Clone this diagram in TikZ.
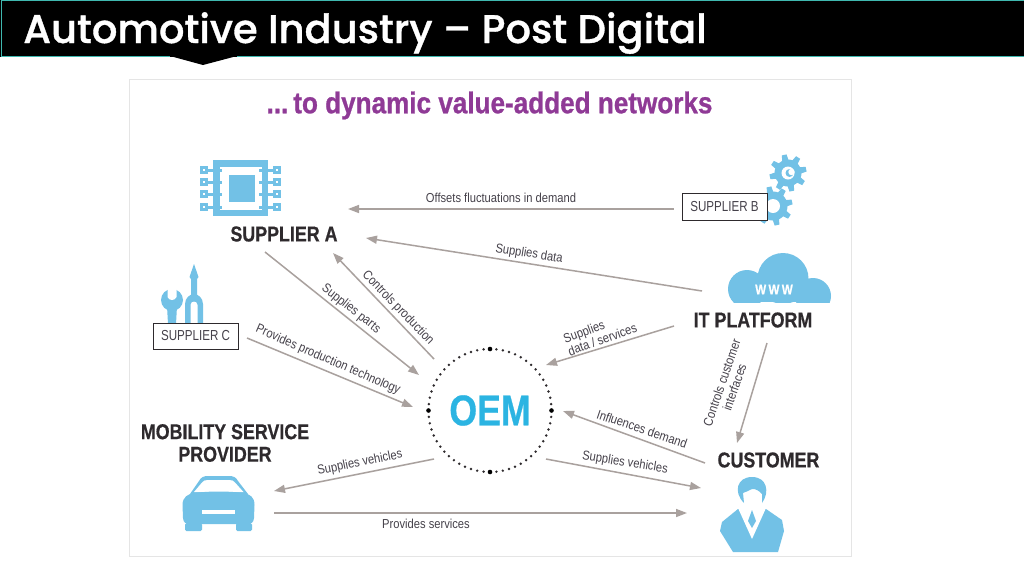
\documentclass[tikz,border=0pt]{standalone}
\usepackage{fontspec}
\usetikzlibrary{arrows.meta,calc}
\setmainfont{Liberation Sans}
\newfontfamily\titlefont[FakeBold=0.9]{Poppins Medium}
\newfontfamily\condfont[FakeStretch=0.86]{Liberation Sans}
\newfontfamily\boxfont[FakeStretch=0.8]{Liberation Sans}
\newfontfamily\actorfont[FakeStretch=0.83,FakeBold=0.6]{Liberation Sans Bold}
\newfontfamily\headfont[FakeStretch=0.87,FakeBold=0.8]{Liberation Sans Bold}
\definecolor{teal1}{HTML}{3FB8AF}
\definecolor{icon}{HTML}{72C1E6}
\definecolor{arrowgray}{HTML}{A9A19E}
\definecolor{inkdark}{HTML}{2E2A2D}
\definecolor{labelink}{HTML}{45414A}
\definecolor{purple1}{HTML}{8F3A96}
\definecolor{oemblue}{HTML}{2BB4E2}
\tikzset{
  arr/.style={draw=arrowgray,line width=1.5pt,-{Triangle[length=11pt,width=8pt]}},
  lab/.style={text=labelink,inner sep=0pt,font=\condfont\fontsize{13}{13.5}\selectfont},
  actor/.style={text=inkdark,inner sep=0pt,font=\actorfont\fontsize{21.5}{22.5}\selectfont,align=center},
  subbox/.style={draw=inkdark,line width=0.9pt,fill=white,inner sep=0pt,text=labelink,
     minimum width=85pt,minimum height=27pt,font=\boxfont\fontsize{14.5}{15}\selectfont},
  iconfill/.style={fill=icon,draw=none},
  blank/.style={fill=white,draw=none},
}
\newcommand{\mygear}[4]{% x y outer inner
  \fill[iconfill] (#1,#2) circle[radius=#4];
  \foreach \a in {0,45,...,315}{
    \fill[iconfill,shift={(#1,#2)},rotate=\a+12] (-3.2,#4-1) -- (3.2,#4-1) -- (2.4,#3) -- (-2.4,#3) -- cycle;
  }
}
\begin{document}
\begin{tikzpicture}[x=1pt,y=-1pt]
\useasboundingbox (0,0) rectangle (1024,576);
\fill[white] (0,0) rectangle (1024,576);
% title bar
\fill[black] (170,56) -- (203,65) -- (237,56) -- cycle;
\fill[black] (0,0) rectangle (1024,56.5);
\draw[teal1,line width=1pt] (1,56.5) -- (1,0.5) -- (1024,0.5);
\draw[teal1,line width=1pt] (1,56.5) -- (170,56.5);
\draw[teal1,line width=1pt] (237,56.5) -- (1024,56.5);
\node[inner sep=0pt,anchor=base west,text=white] (title) at (23,43)
  {\titlefont\fontsize{40}{42}\selectfont Automotive Industry – Post Digital};
% panel
\node[draw=black!10,line width=1pt,fill=white,minimum width=722pt,minimum height=477pt,inner sep=0pt] (panel) at (490,317.5) {};
\node[inner sep=0pt,text=purple1] (head) at (489.5,105.5)
  {\headfont\fontsize{30}{32}\selectfont ...\,to dynamic value-added networks};

% chip icon
\fill[iconfill] (213,160) rectangle (268,216);
\fill[blank] (219.5,167) rectangle (261.5,210);
\fill[iconfill] (229,175) rectangle (255,202);
\foreach \yy in {170,182,194,207}{
  \fill[iconfill] (207,\yy-1.5) rectangle (222,\yy+1.5);
  \fill[iconfill] (259,\yy-1.5) rectangle (274,\yy+1.5);
  \draw[icon,line width=2.6pt] (201.5,\yy-2.5) rectangle (206.5,\yy+2.5);
  \draw[icon,line width=2.6pt] (274.5,\yy-2.5) rectangle (279.5,\yy+2.5);
}
% gears
\mygear{788}{173}{18.5}{13.5}
\fill[blank] (788,173) circle[radius=6.5];
\fill[iconfill] (789.5,173) circle[radius=4];
\fill[blank] (791.5,172) circle[radius=3.2];
\mygear{773}{206}{19.5}{14.5}
\fill[blank] (773,206) circle[radius=7];
% cloud
\begin{scope}
\clip (720,245) rectangle (840,302);
\fill[iconfill] (783,278.5) circle[radius=25.5];
\fill[iconfill] (747,289) circle[radius=19];
\fill[iconfill] (813,296) circle[radius=18];
\fill[iconfill] (747,288) rectangle (813,302);
\end{scope}
\node[inner sep=0pt,text=white] (www) at (774,289.5) {\actorfont\fontsize{14}{14}\selectfont W\,W\,W};
% tools
\fill[iconfill] (172,300) circle[radius=11];
\fill[blank] (167.5,286) -- (176.5,286) -- (176.5,297) .. controls (175,301) and (169,301) .. (167.5,297) -- cycle;
\fill[iconfill] (167,306) -- (177,306) -- (176,324) -- (168,324) -- cycle;
\fill[iconfill] (194,264) -- (198.5,277) -- (197,279) -- (197,296) -- (191,296) -- (191,279) -- (189.5,277) -- cycle;
\fill[iconfill] (185,324) -- (185,304) .. controls (185,298) and (190,294) .. (194,294) .. controls (198,294) and (203,298) .. (203,304) -- (203,324) -- cycle;
\fill[blank] (190.5,324) -- (190.5,305) .. controls (190.5,300.5) and (197.5,300.5) .. (197.5,305) -- (197.5,324) -- cycle;
% car
\fill[iconfill] (190,494) -- (199,481) .. controls (201,477) and (204,476) .. (208,476) -- (229,476) .. controls (233,476) and (236,477) .. (238,481) -- (248,494) -- cycle;
\fill[blank] (194,492) -- (202,482.5) .. controls (203.5,480.5) and (205,480) .. (208,480) -- (229,480) .. controls (232,480) and (233.5,480.5) .. (235,482.5) -- (243.5,492) -- cycle;
\fill[iconfill] (182.5,505) .. controls (182.5,497) and (188,494) .. (194,493) .. controls (210,491) and (228,491) .. (243,493) .. controls (250,494) and (254.5,497) .. (254.5,505) -- (254,518) .. controls (253.5,523) and (251,524) .. (247,524) -- (190,524) .. controls (186,524) and (183.5,523) .. (183,518) -- cycle;
\fill[iconfill,rounded corners=1.5pt] (185,523) rectangle (202,531);
\fill[iconfill,rounded corners=1.5pt] (236,523) rectangle (252,531);
\fill[blank] (202,510) rectangle (235,514);
% person
\fill[iconfill] (744,503) .. controls (733,492) and (737,477) .. (752,477) .. controls (767,477) and (770,492) .. (762,503) -- (762,494) .. controls (758,490) and (756,489) .. (752,489) .. controls (749,491) and (745,492) .. (743,493) -- cycle;
\fill[iconfill] (720,531) -- (722,522) -- (738,509) -- (766,509) -- (782,520) -- (784,531) -- (778,552) -- (733,552) -- cycle;
\fill[blank] (738,508) -- (752,539) -- (766,508) -- (762,506) -- (742,506) -- cycle;
\fill[iconfill] (752,510) -- (756,521) -- (752,528) -- (748,521) -- cycle;

% OEM
\node[circle,minimum size=123pt,inner sep=0pt] (oem) at (490,410.5) {};
\draw[inkdark,line width=2.7pt,line cap=round,dash pattern=on 0pt off 6.44pt] (oem) circle[radius=61.5];
\foreach \a in {0,90,180,270}{\fill[black] ($(oem)+(\a:61.5)$) circle[radius=2.3];}
\node[inner sep=0pt,text=oemblue] (oemt) at (490,410.5) {\actorfont\fontsize{43}{43}\selectfont OEM};

% actors
\node[actor] (supa) at (284,234) {SUPPLIER A};
\node[actor] (itp) at (753,320) {IT PLATFORM};
\node[actor] (cust) at (768.5,460) {CUSTOMER};
\node[actor] (msp) at (225,443) {MOBILITY SERVICE\\PROVIDER};
\node[subbox] (supb) at (724.5,207) {SUPPLIER B};
\node[subbox,minimum height=26pt] (supc) at (195.5,336) {SUPPLIER C};
\coordinate (carp) at (218,503);
\coordinate (manp) at (752,515);

% connectors
\draw[arr] ($(supb.west)+(-8,2)$) -- ($(supa)+(64,-25)$);
\draw[arr] ($(itp)+(-51,-29)$) -- ($(supa)+(82,4)$);
\draw[arr] ($(supa)+(-19,18)$) -- ($(oem)+(-71,-35.5)$);
\draw[arr] ($(oem)+(-56,-51.5)$) -- ($(supa)+(49,19)$);
\draw[arr] ($(supc)+(51.5,2)$) -- ($(oem)+(-77,-3.5)$);
\draw[arr] ($(oem)+(-56,48.5)$) -- ($(carp)+(56,-12)$);
\draw[arr] ($(carp)+(56,10)$) -- ($(manp)+(-65,-2)$);
\draw[arr] ($(oem)+(56,48.5)$) -- ($(manp)+(-51,-27)$);
\draw[arr] ($(cust)+(-63.5,3)$) -- ($(oem)+(73,0.5)$);
\draw[arr] ($(itp)+(-79,6)$) -- ($(oem)+(56,-45.5)$);
\draw[arr] ($(itp)+(14,23)$) -- ($(cust)+(-31.5,-17)$);

% labels
\node[lab] (l1) at (501,197.5) {Offsets fluctuations in demand};
\node[lab,rotate=-9] (l2) at (529,254) {Supplies data};
\node[lab,rotate=-38] (l3) at (351,309) {Supplies parts};
\node[lab,rotate=-46] (l4) at (398,308) {Controls production};
\node[lab,rotate=-23.5] (l5) at (328,360) {Provides production technology};
\node[lab,rotate=11.5] (l6) at (360,463) {Supplies vehicles};
\node[lab] (l7) at (426,524) {Provides services};
\node[lab,rotate=-9] (l8) at (625,463) {Supplies vehicles};
\node[lab,rotate=-19] (l9) at (642,429) {Influences demand};
\node[lab,rotate=20,align=left] (l10) at (600,333) {Supplies\\data / services};
\node[lab,rotate=71,align=center] (l11) at (728,385) {Controls customer\\interfaces};
\end{tikzpicture}
\end{document}
